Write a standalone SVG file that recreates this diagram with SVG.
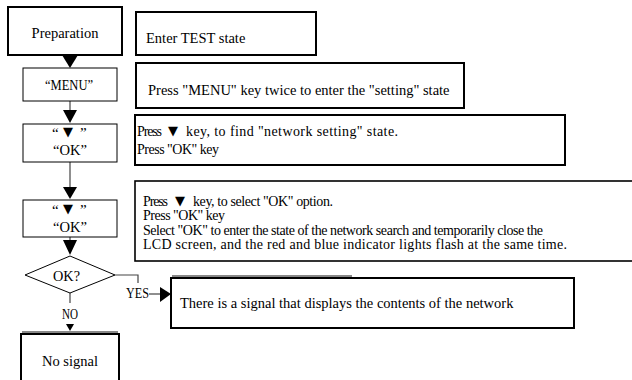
<svg xmlns="http://www.w3.org/2000/svg" width="632" height="380" viewBox="0 0 632 380" font-family="'Liberation Serif', 'Times New Roman', serif">
<style>
text{font-family:'Liberation Serif','Times New Roman',serif;fill:#000}
.t{font-size:14.5px}
.s{font-size:14px}
.c{font-size:15px}
.thick{fill:#fff;stroke:#000;stroke-width:2}
.thin{fill:#fff;stroke:#000;stroke-width:1}
.ln{fill:none;stroke:#444;stroke-width:1.2}
.ah{fill:#000;stroke:none}
.sym{font-family:'DejaVu Sans',sans-serif;font-size:13px}
</style>
<rect width="632" height="380" fill="#fff"/>
<g id="connectors">
<polygon class="ah" points="62,55 78,55 70,68"/>
<line class="ln" x1="70" y1="101" x2="70" y2="110"/>
<polygon class="ah" points="63,110 77,110 70,123"/>
<line class="ln" x1="70" y1="162" x2="70" y2="187"/>
<polygon class="ah" points="63,187 77,187 70,199"/>
<line class="ln" x1="70" y1="237" x2="70" y2="240"/>
<polygon class="ah" points="63,240 77,240 70,255"/>
<polyline class="ln" points="115,275 138,275 138,283"/>
<line class="ln" x1="149" y1="294" x2="160" y2="294"/>
<polygon class="ah" points="160,287 171,294 160,302"/>
<line class="ln" x1="70" y1="293" x2="70" y2="303"/>
<polygon class="ah" points="66,324 74,324 70,331"/>
<text class="c" x="126" y="298" textLength="23" lengthAdjust="spacingAndGlyphs">YES</text>
<text class="c" x="62" y="319" textLength="16" lengthAdjust="spacingAndGlyphs">NO</text>
</g>
<g id="preparation">
<rect class="thick" x="8" y="7" width="114" height="48"/>
<text class="t" x="65" y="38" text-anchor="middle">Preparation</text>
</g>
<g id="enter-test">
<rect class="thick" x="136" y="12" width="180" height="43"/>
<text class="t" x="146" y="43">Enter TEST state</text>
</g>
<g id="menu">
<rect class="thin" x="23" y="68" width="94" height="33"/>
<text class="c" x="45" y="90" textLength="48" lengthAdjust="spacingAndGlyphs">“MENU”</text>
</g>
<g id="menu-desc">
<rect class="thick" x="136" y="63" width="328" height="45"/>
<text class="t" x="148" y="95">Press "MENU" key twice to enter the "setting" state</text>
</g>
<g id="down-ok-1">
<rect class="thin" x="23" y="124" width="94" height="38"/>
<text class="c" x="52" y="138">“</text>
<text class="sym" x="68" y="136" text-anchor="middle">▼</text>
<text class="c" x="80" y="138">”</text>
<text class="c" x="53" y="155" textLength="34" lengthAdjust="spacingAndGlyphs">“OK”</text>
</g>
<g id="network-desc">
<rect class="thick" x="135" y="115" width="430" height="50"/>
<text class="s" x="137" y="136" textLength="25">Press</text>
<text class="sym" x="173" y="135" text-anchor="middle">▼</text>
<text class="s" x="186" y="136" textLength="212">key, to find "network setting" state.</text>
<text class="s" x="137" y="154" textLength="82">Press "OK" key</text>
</g>
<g id="down-ok-2">
<rect class="thin" x="23" y="200" width="94" height="37"/>
<text class="c" x="52" y="215">“</text>
<text class="sym" x="68" y="213" text-anchor="middle">▼</text>
<text class="c" x="80" y="215">”</text>
<text class="c" x="53" y="232" textLength="34" lengthAdjust="spacingAndGlyphs">“OK”</text>
</g>
<g id="search-desc">
<rect fill="#fff" stroke="#000" stroke-width="1.6" x="135" y="181" width="510" height="80"/>
<text class="s" x="143" y="206" textLength="25">Press</text>
<text class="sym" x="180" y="205" text-anchor="middle">▼</text>
<text class="s" x="193" y="206" textLength="140">key, to select "OK" option.</text>
<text class="s" x="143" y="220" textLength="82">Press "OK" key</text>
<text class="s" x="143" y="235" textLength="400">Select "OK" to enter the state of the network search and temporarily close the</text>
<text class="s" x="143" y="249" textLength="424">LCD screen, and the red and blue indicator lights flash at the same time.</text>
</g>
<g id="decision">
<polygon fill="#fff" stroke="#000" stroke-width="1" points="70,256 115,275 70,293 25,275"/>
<text class="c" x="53" y="281" textLength="27" lengthAdjust="spacingAndGlyphs">OK?</text>
</g>
<g id="signal">
<line x1="172" y1="276" x2="352" y2="276" stroke="#888" stroke-width="2"/>
<rect class="thick" x="171" y="278" width="403" height="50"/>
<text class="t" x="180" y="308">There is a signal that displays the contents of the network</text>
</g>
<g id="no-signal">
<line x1="22" y1="332" x2="118" y2="332" stroke="#888" stroke-width="2"/>
<rect class="thick" x="21" y="334" width="98" height="60"/>
<text class="t" x="70" y="366" text-anchor="middle">No signal</text>
</g>
</svg>
